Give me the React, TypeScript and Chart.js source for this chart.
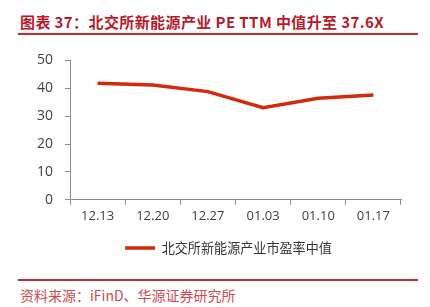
import React, { useEffect, useRef } from 'react';
import { Chart, registerables } from 'chart.js';

Chart.register(...registerables);

const categories = ['12.13', '12.20', '12.27', '01.03', '01.10', '01.17'];
const peMedian = [41.8, 41.2, 38.8, 33.0, 36.4, 37.6];
const yTicks = [0, 10, 20, 30, 40, 50];
const seriesName = '北交所新能源产业市盈率中值';
const titleText = '图表 37：北交所新能源产业 PE TTM 中值升至 37.6X';
const sourceText = '资料来源：iFinD、华源证券研究所';

const LINE_COLOR = '#d22a0c';
const RED = '#b8192b';
const AXIS = '#8c8c8c';
const CJK = '"Noto Sans CJK SC", "Noto Sans", sans-serif';
const NUM = '"Open Sans", "Noto Sans", sans-serif';
const LEGEND_LEFT = 56;

// shifts the legend's box so it is centred like the reference
const legendShift = {
  id: 'legendShift',
  afterLayout(chart: any) {
    const lg = chart.legend;
    if (lg) {
      lg.left = LEGEND_LEFT;
    }
  },
};

export default function App() {
  const ref = useRef<HTMLCanvasElement | null>(null);

  useEffect(() => {
    if (!ref.current) return;
    const chart = new Chart(ref.current, {
      type: 'line',
      data: {
        labels: categories,
        datasets: [
          {
            label: seriesName,
            data: peMedian,
            borderColor: LINE_COLOR,
            backgroundColor: LINE_COLOR,
            borderWidth: 3.5,
            pointRadius: 0,
            tension: 0,
            fill: false,
          },
        ],
      },
      plugins: [legendShift],
      options: {
        responsive: false,
        animation: false,
        layout: { padding: { left: 0, right: 29, top: 18, bottom: 5.5 } },
        plugins: {
          tooltip: { enabled: false },
          legend: {
            position: 'bottom',
            labels: {
              usePointStyle: true,
              pointStyle: 'line',
              pointStyleWidth: 30,
              padding: 13,
              color: '#333333',
              font: { family: CJK, size: 13.1 },
            },
          },
        },
        scales: {
          x: {
            offset: true,
            grid: { display: true, drawOnChartArea: false, drawTicks: true, tickLength: 5, color: AXIS, offset: true },
            border: { display: true, color: AXIS, width: 1 },
            ticks: { padding: 4, maxRotation: 0, color: '#404040', font: { family: NUM, size: 13 } },
          },
          y: {
            min: 0,
            max: 50,
            afterBuildTicks: (scale: any) => {
              scale.ticks = yTicks.map((v) => ({ value: v }));
            },
            afterFit: (scale: any) => {
              scale.width = 70;
            },
            grid: { display: true, drawOnChartArea: false, drawTicks: true, tickLength: 5, color: AXIS },
            border: { display: true, color: AXIS, width: 1 },
            ticks: { padding: 12, color: '#404040', font: { family: NUM, size: 14 } },
          },
        },
      },
    });
    return () => chart.destroy();
  }, []);

  return (
    <div style={{ position: 'absolute', left: 0, top: 0, width: 430, height: 307, background: '#ffffff', overflow: 'hidden' }}>
      <div style={{ position: 'absolute', left: 20, top: 12, fontFamily: CJK, fontWeight: 700, fontSize: 15, lineHeight: '20px', letterSpacing: 0.4, color: RED, whiteSpace: 'nowrap' }}>
        {titleText}
      </div>
      <div style={{ position: 'absolute', left: 18, top: 33, width: 400, height: 2, background: '#c42a33' }} />
      <canvas ref={ref} width={430} height={230} style={{ position: 'absolute', left: 0, top: 40, width: 430, height: 230 }} />
      <div style={{ position: 'absolute', left: 18, top: 279, width: 400, height: 2, background: '#c42a33' }} />
      <div style={{ position: 'absolute', left: 20, top: 285, fontFamily: CJK, fontSize: 14, lineHeight: '20px', color: '#cc4b53', whiteSpace: 'nowrap' }}>
        {sourceText}
      </div>
    </div>
  );
}
